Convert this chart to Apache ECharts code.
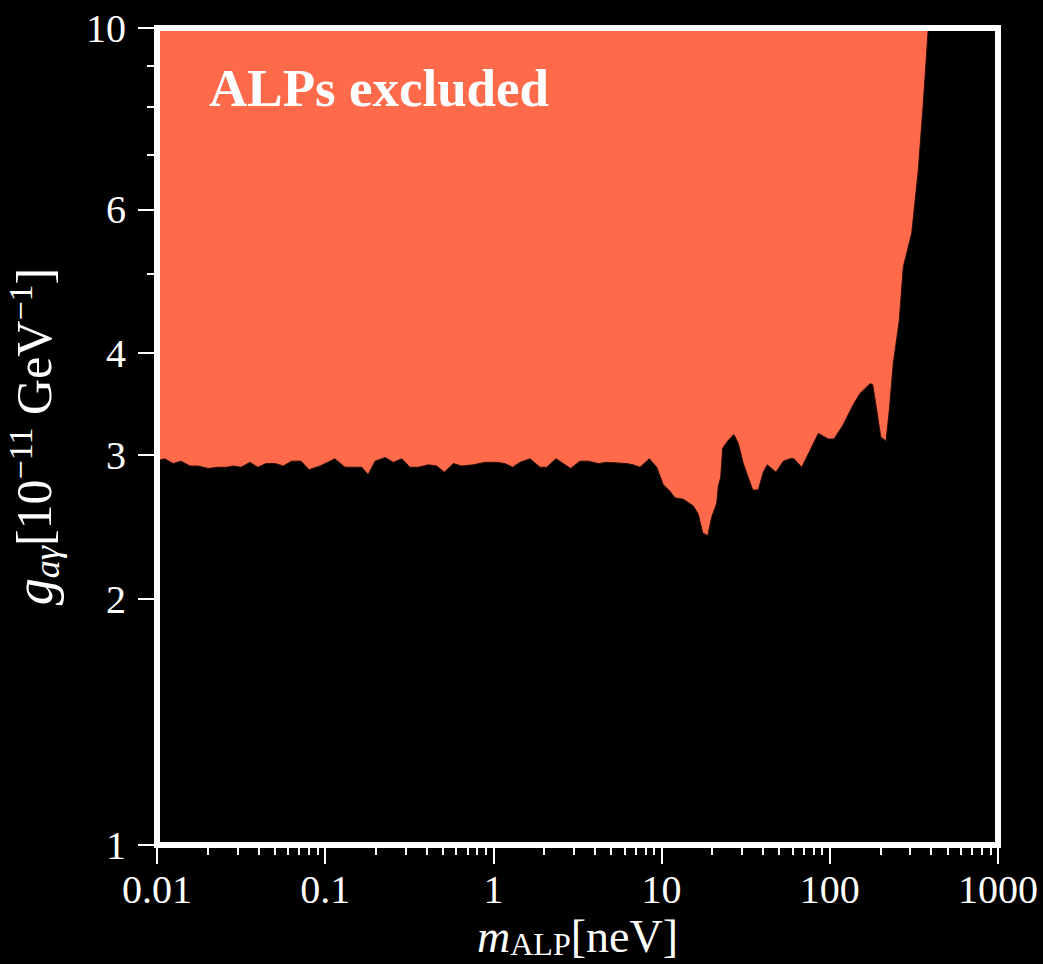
<!DOCTYPE html>
<html>
<head>
<meta charset="utf-8">
<script src="https://cdn.jsdelivr.net/npm/echarts@6/dist/echarts.min.js"></script>
<style>
html,body{margin:0;padding:0;background:#000;}
#chart{width:1043px;height:964px;}
</style>
</head>
<body>
<div id="chart"></div>
<script>
// ALP mass [neV]
var massValues = [0.01, 0.0104, 0.0111, 0.0125, 0.0139, 0.0157, 0.0176, 0.0202, 0.0231, 0.0260,
  0.0284, 0.0316, 0.0357, 0.0397, 0.0445, 0.0503, 0.0564, 0.0632, 0.0718, 0.0801,
  0.0931, 0.107, 0.114, 0.131, 0.165, 0.180, 0.198, 0.227, 0.254, 0.285,
  0.319, 0.358, 0.410, 0.460, 0.511, 0.578, 0.648, 0.760, 0.891, 1.046,
  1.172, 1.302, 1.439, 1.651, 1.893, 2.075, 2.356, 2.604, 2.882, 3.272,
  3.667, 4.205, 4.716, 6.202, 6.789, 7.441, 8.452, 9.352, 10.23, 11.22,
  12.01, 13.46, 15.44, 16.53, 17.55, 18.80, 19.86, 21.27, 21.74, 22.46,
  23.08, 24.93, 26.94, 28.58, 30.60, 34.80, 37.57, 40.24, 42.50, 47.87,
  52.90, 58.0, 61.27, 68.07, 76.26, 85.44, 97.97, 105.9, 120.3, 138.0,
  151.2, 173.4, 179.9, 190.0, 200.7, 215.9, 225.9, 238.6, 259.0, 273.5,
  306.9, 335.9, 359.6, 385.1];
// coupling limit g_agamma [1e-11 GeV^-1]
var couplingLimit = [2.95, 2.96, 2.97, 2.93, 2.95, 2.91, 2.91, 2.89, 2.90, 2.90,
  2.91, 2.90, 2.94, 2.90, 2.93, 2.93, 2.91, 2.95, 2.95, 2.88,
  2.91, 2.95, 2.97, 2.90, 2.90, 2.84, 2.95, 2.98, 2.94, 2.97,
  2.90, 2.90, 2.92, 2.91, 2.86, 2.93, 2.91, 2.92, 2.94, 2.94,
  2.93, 2.90, 2.94, 2.97, 2.90, 2.90, 2.97, 2.93, 2.89, 2.95,
  2.95, 2.93, 2.94, 2.93, 2.92, 2.90, 2.97, 2.90, 2.76, 2.71,
  2.66, 2.65, 2.60, 2.54, 2.41, 2.39, 2.52, 2.62, 2.75, 2.82,
  3.06, 3.13, 3.18, 3.10, 2.93, 2.72, 2.72, 2.86, 2.92, 2.86,
  2.95, 2.97, 2.97, 2.90, 3.04, 3.19, 3.14, 3.14, 3.27, 3.46,
  3.57, 3.67, 3.66, 3.41, 3.16, 3.12, 3.41, 3.89, 4.39, 5.10,
  5.61, 6.70, 8.09, 10.0];

var xMajorTicks = [0.01, 0.1, 1, 10, 100, 1000];
var xMinorTicks = [0.02, 0.03, 0.04, 0.05, 0.06, 0.07, 0.08, 0.09,
  0.2, 0.3, 0.4, 0.5, 0.6, 0.7, 0.8, 0.9,
  2, 3, 4, 5, 6, 7, 8, 9,
  20, 30, 40, 50, 60, 70, 80, 90,
  200, 300, 400, 500, 600, 700, 800, 900];
var yMajorTicks = [1, 2, 3, 4, 6, 10];
var yMinorTicks = [5, 7, 8, 9];

var FONT = '"Liberation Serif", "Times New Roman", serif';
var WHITE = '#ffffff';
var FILL = '#ff6a4b';

function fmt(v) { return String(+(+v).toPrecision(6)); }

var chart = echarts.init(document.getElementById('chart'), null, {renderer: 'svg'});

var frameLine = {show: true, lineStyle: {color: WHITE, width: 6, cap: 'square'}};

var option = {
  backgroundColor: '#000',
  animation: false,
  title: {
    text: 'ALPs excluded',
    left: 204,
    top: 56,
    textStyle: {color: WHITE, fontFamily: FONT, fontWeight: 'bold', fontSize: 53}
  },
  grid: {left: 157, right: 45, top: 28, bottom: 119, containLabel: false, outerBoundsMode: 'none'},
  xAxis: [
    {
      type: 'log', logBase: 10, min: 0.01, max: 1000, position: 'bottom', z: 10,
      axisLine: frameLine,
      axisTick: {show: true, inside: false, length: 19, lineStyle: {color: WHITE, width: 2}, customValues: xMajorTicks},
      axisLabel: {show: true, color: WHITE, fontFamily: FONT, fontSize: 40, margin: 24, formatter: fmt, customValues: xMajorTicks},
      splitLine: {show: false},
      minorTick: {show: false},
      name: '{mi|m}{sub|ALP}{n|[neV]}',
      nameLocation: 'middle',
      nameGap: 64,
      nameTextStyle: {
        color: WHITE, fontFamily: FONT,
        rich: {
          mi: {fontSize: 46, fontStyle: 'italic', fontFamily: FONT, color: WHITE, lineHeight: 46, verticalAlign: 'middle'},
          sub: {fontSize: 32, fontFamily: FONT, color: WHITE, lineHeight: 22, verticalAlign: 'bottom'},
          n: {fontSize: 46, fontFamily: FONT, color: WHITE, lineHeight: 46, verticalAlign: 'middle'}
        }
      }
    },
    {
      type: 'log', logBase: 10, min: 0.01, max: 1000, position: 'bottom', z: 10,
      axisLine: {show: false},
      axisTick: {show: true, inside: false, length: 10, lineStyle: {color: WHITE, width: 2}, customValues: xMinorTicks},
      axisLabel: {show: false},
      splitLine: {show: false}
    },
    {
      type: 'log', logBase: 10, min: 0.01, max: 1000, position: 'top', z: 10,
      axisLine: frameLine,
      axisTick: {show: false},
      axisLabel: {show: false},
      splitLine: {show: false}
    }
  ],
  yAxis: [
    {
      type: 'log', logBase: 10, min: 1, max: 10, position: 'left', z: 10,
      axisLine: frameLine,
      axisTick: {show: true, inside: false, length: 19, lineStyle: {color: WHITE, width: 2}, customValues: yMajorTicks},
      axisLabel: {show: true, color: WHITE, fontFamily: FONT, fontSize: 40, margin: 31, formatter: fmt, customValues: yMajorTicks},
      splitLine: {show: false},
      name: '{gi|g}{sub|aγ}{n|[10}{sup|−11}{n| GeV}{sup|−1}{n|]}',
      nameLocation: 'middle',
      nameRotate: 90,
      nameGap: 92,
      nameTextStyle: {
        color: WHITE, fontFamily: FONT,
        rich: {
          gi: {fontSize: 54, fontStyle: 'italic', fontFamily: FONT, color: WHITE, lineHeight: 62, verticalAlign: 'middle'},
          sub: {fontSize: 36, fontStyle: 'italic', fontFamily: FONT, color: WHITE, lineHeight: 32, verticalAlign: 'bottom'},
          sup: {fontSize: 34, fontFamily: FONT, color: WHITE, lineHeight: 32, verticalAlign: 'top'},
          n: {fontSize: 50, fontFamily: FONT, color: WHITE, lineHeight: 62, verticalAlign: 'middle'}
        }
      }
    },
    {
      type: 'log', logBase: 10, min: 1, max: 10, position: 'left', z: 10,
      axisLine: {show: false},
      axisTick: {show: true, inside: false, length: 10, lineStyle: {color: WHITE, width: 2}, customValues: yMinorTicks},
      axisLabel: {show: false},
      splitLine: {show: false}
    },
    {
      type: 'log', logBase: 10, min: 1, max: 10, position: 'right', z: 10,
      axisLine: frameLine,
      axisTick: {show: false},
      axisLabel: {show: false},
      splitLine: {show: false}
    }
  ],
  series: [
    {
      type: 'line',
      xAxisIndex: 0,
      yAxisIndex: 0,
      z: 2,
      data: massValues.map(function (m, i) { return [m, couplingLimit[i]]; }),
      showSymbol: false,
      symbol: 'none',
      smooth: false,
      clip: true,
      lineStyle: {width: 1, color: '#2a0d07'},
      areaStyle: {color: FILL, opacity: 1, origin: 'end'}
    }
  ]
};
chart.setOption(option);
</script>
</body>
</html>
